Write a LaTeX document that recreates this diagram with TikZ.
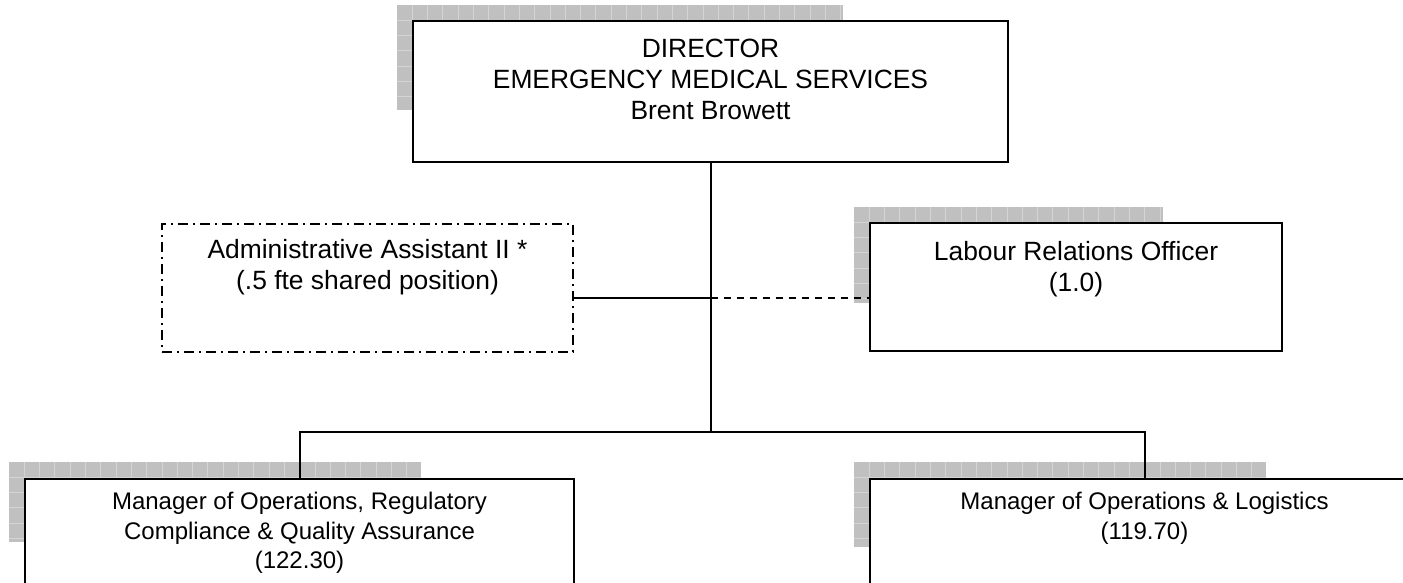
\documentclass[tikz,border=0pt]{standalone}
\usepackage{fontspec}
\setmainfont{Liberation Sans}
\usetikzlibrary{positioning}
\definecolor{shadegray}{RGB}{192,192,192}
\definecolor{shadeline}{RGB}{212,212,212}

\begin{document}
\begin{tikzpicture}[x=0.5pt,y=-0.5pt,
  every node/.style={inner sep=0pt},
  post/.style={draw=black,line width=1pt,fill=white,rectangle},
  vacant/.style={post,dash pattern=on 5pt off 2.5pt on 1pt off 2.5pt},
  title/.style={align=center,font=\fontsize{13.2}{15.5}\selectfont},
  small/.style={align=center,font=\fontsize{12}{14.75}\selectfont},
  link/.style={line width=1pt},
  shared/.style={link,dash pattern=on 3.5pt off 3pt}]
\useasboundingbox (0,0) rectangle (1403,583);
\clip (0,0) rectangle (1403,583);
% grey grids behind the posts
\foreach \xa/\ya/\xb/\yb in {397/5/843/110, 854/207/1163/303, 9/462/421/542, 854/462/1266/547} {
  \fill[shadegray] (\xa,\ya) rectangle (\xb,\yb);
  \begin{scope}
    \clip (\xa,\ya) rectangle (\xb,\yb);
    \foreach \i in {1,...,30}
      \draw[shadeline,line width=0.5pt] (\xa+\i*15.3,\ya) -- (\xa+\i*15.3,\yb);
    \foreach \i in {1,...,7}
      \draw[shadeline,line width=0.5pt] (\xa,\ya+\i*15.3) -- (\xb,\ya+\i*15.3);
  \end{scope}
}
% posts
\node[post,minimum width=297.5pt,minimum height=70.5pt] (dir) at (710.5,91.5) {};
\node[vacant,minimum width=205.5pt,minimum height=64pt] (admin) at (367.5,288) {};
\node[post,minimum width=206pt,minimum height=64pt] (lro) at (1076,287) {};
\node[post,minimum width=274.5pt,minimum height=53.5pt] (mgrl) at (299.5,532.5) {};
\node[post,minimum width=274.5pt,minimum height=53.5pt] (mgrr) at (1144.5,532.5) {};
% texts
\node[title,anchor=north] (dirtext) at (710.5,39) {DIRECTOR\\EMERGENCY MEDICAL SERVICES\\Brent Browett};
\node[title,anchor=north] (admintext) at (367.5,239) {Administrative Assistant II *\\(.5 fte shared position)};
\node[title,anchor=north] (lrotext) at (1076,241) {Labour Relations Officer\\(1.0)};
\node[small,anchor=north] (mgrltext) at (299.5,492) {Manager of Operations, Regulatory\\Compliance \& Quality Assurance\\(122.30)};
\node[small,anchor=north] (mgrrtext) at (1144.5,492) {Manager of Operations \& Logistics\\(119.70)};
% lines
\coordinate (tap) at (710.5,298);
\coordinate (bus) at (710.5,432);
\draw[link] (dir.south) -- (bus);
\draw[link] (admin.east |- tap) -- (tap);
\draw[shared] (tap) -- (lro.west |- tap);
\draw[link] (mgrl.north) |- (bus) -| (mgrr.north);
\end{tikzpicture}
\end{document}
